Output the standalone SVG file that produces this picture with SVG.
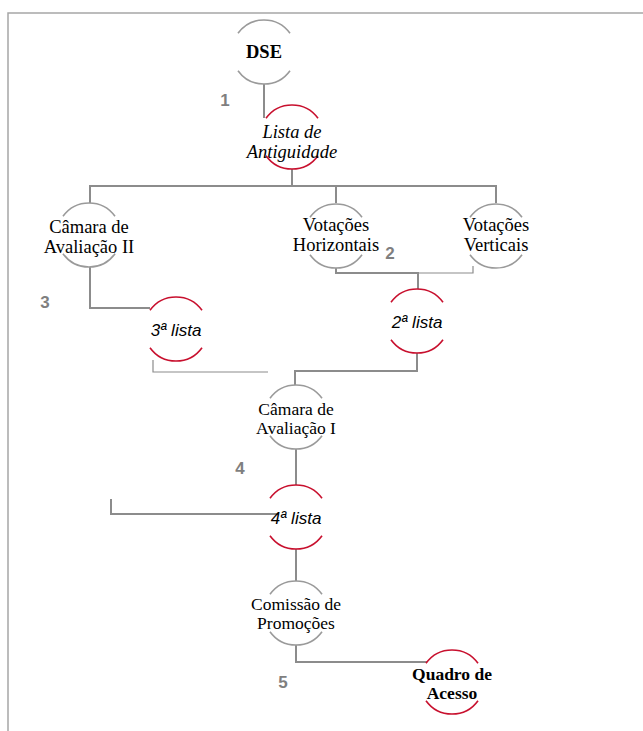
<svg xmlns="http://www.w3.org/2000/svg" xmlns:xlink="http://www.w3.org/1999/xlink" width="643" height="731" viewBox="0 0 643 731">
<style>
.frame{fill:none;stroke:#a6a6a6;stroke-width:1.5}
.conn{fill:none;stroke:#8c8c8c;stroke-width:2}
.thin{fill:none;stroke:#8c8c8c;stroke-width:1.2}
.g{fill:none;stroke:#9a9a9a;stroke-width:1.6}
.r{fill:none;stroke:#c8102e;stroke-width:1.6}
.t{font-family:"Liberation Serif","Times New Roman",serif;font-size:18.5px;fill:#000;text-anchor:middle}
.c{font-size:17.5px}
.b{font-weight:bold}
.i{font-style:italic}
.s{font-family:"Liberation Sans",Arial,sans-serif;font-size:17px;font-style:italic;fill:#000;text-anchor:middle}
.n{font-family:"Liberation Sans",Arial,sans-serif;font-size:17px;font-weight:bold;fill:#7f7f7f;text-anchor:middle}
</style>
<defs>
<path id="ring" d="M-26 -18.7 A32 32 0 0 1 26 -18.7 M-26 18.7 A32 32 0 0 0 26 18.7"/>
</defs>
<rect width="643" height="731" fill="#fff"/>
<path class="frame" d="M8 731 V13 H643"/>
<g id="connectors">
<path class="conn" d="M264 84 V118"/>
<path class="conn" d="M292 169 V186"/>
<path class="conn" d="M90 203 V186 H496 V203 M336 186 V203"/>
<path class="conn" d="M90 267 V308 H150"/>
<path class="thin" d="M153 360 V372 H268"/>
<path class="conn" d="M336 268 V273 H418 V289"/>
<path class="thin" d="M418 273 H473 V266"/>
<path class="conn" d="M417 353 V371 H295 V385"/>
<path class="conn" d="M296 449 V485"/>
<path class="conn" d="M111 499 V514 H277"/>
<path class="conn" d="M296 549 V581"/>
<path class="conn" d="M296 645 V662 H427"/>
</g>
<g id="dse"><use xlink:href="#ring" class="g" x="264" y="52"/><text class="t b" x="264" y="58">DSE</text></g>
<g id="lista-antiguidade"><use xlink:href="#ring" class="r" x="292" y="137"/><text class="t i" x="292" y="138">Lista de</text><text class="t i" x="292" y="158">Antiguidade</text></g>
<g id="camara-ii"><use xlink:href="#ring" class="g" x="89" y="235"/><text class="t" x="89" y="233">Câmara de</text><text class="t" x="89" y="253">Avaliação II</text></g>
<g id="votacoes-h"><use xlink:href="#ring" class="g" x="336" y="236"/><text class="t" x="336" y="231">Votações</text><text class="t" x="336" y="251">Horizontais</text></g>
<g id="votacoes-v"><use xlink:href="#ring" class="g" x="496" y="236"/><text class="t" x="496" y="231">Votações</text><text class="t" x="496" y="251">Verticais</text></g>
<g id="lista-3"><use xlink:href="#ring" class="r" x="176" y="329"/><text class="s" x="176" y="336">3ª lista</text></g>
<g id="lista-2"><use xlink:href="#ring" class="r" x="417" y="321"/><text class="s" x="417" y="328">2ª lista</text></g>
<g id="camara-i"><use xlink:href="#ring" class="g" x="296" y="417"/><text class="t c" x="296" y="415">Câmara de</text><text class="t c" x="296" y="434">Avaliação I</text></g>
<g id="lista-4"><use xlink:href="#ring" class="r" x="296" y="517"/><text class="s" x="296" y="524">4ª lista</text></g>
<g id="comissao"><use xlink:href="#ring" class="g" x="296" y="613"/><text class="t c" x="296" y="610">Comissão de</text><text class="t c" x="296" y="629">Promoções</text></g>
<g id="quadro"><use xlink:href="#ring" class="r" x="452" y="682"/><text class="t b c" x="452" y="680">Quadro de</text><text class="t b c" x="452" y="699">Acesso</text></g>
<g id="labels">
<text class="n" x="225" y="106">1</text>
<text class="n" x="390" y="259">2</text>
<text class="n" x="45" y="308">3</text>
<text class="n" x="240" y="474">4</text>
<text class="n" x="283" y="688">5</text>
</g>
</svg>
